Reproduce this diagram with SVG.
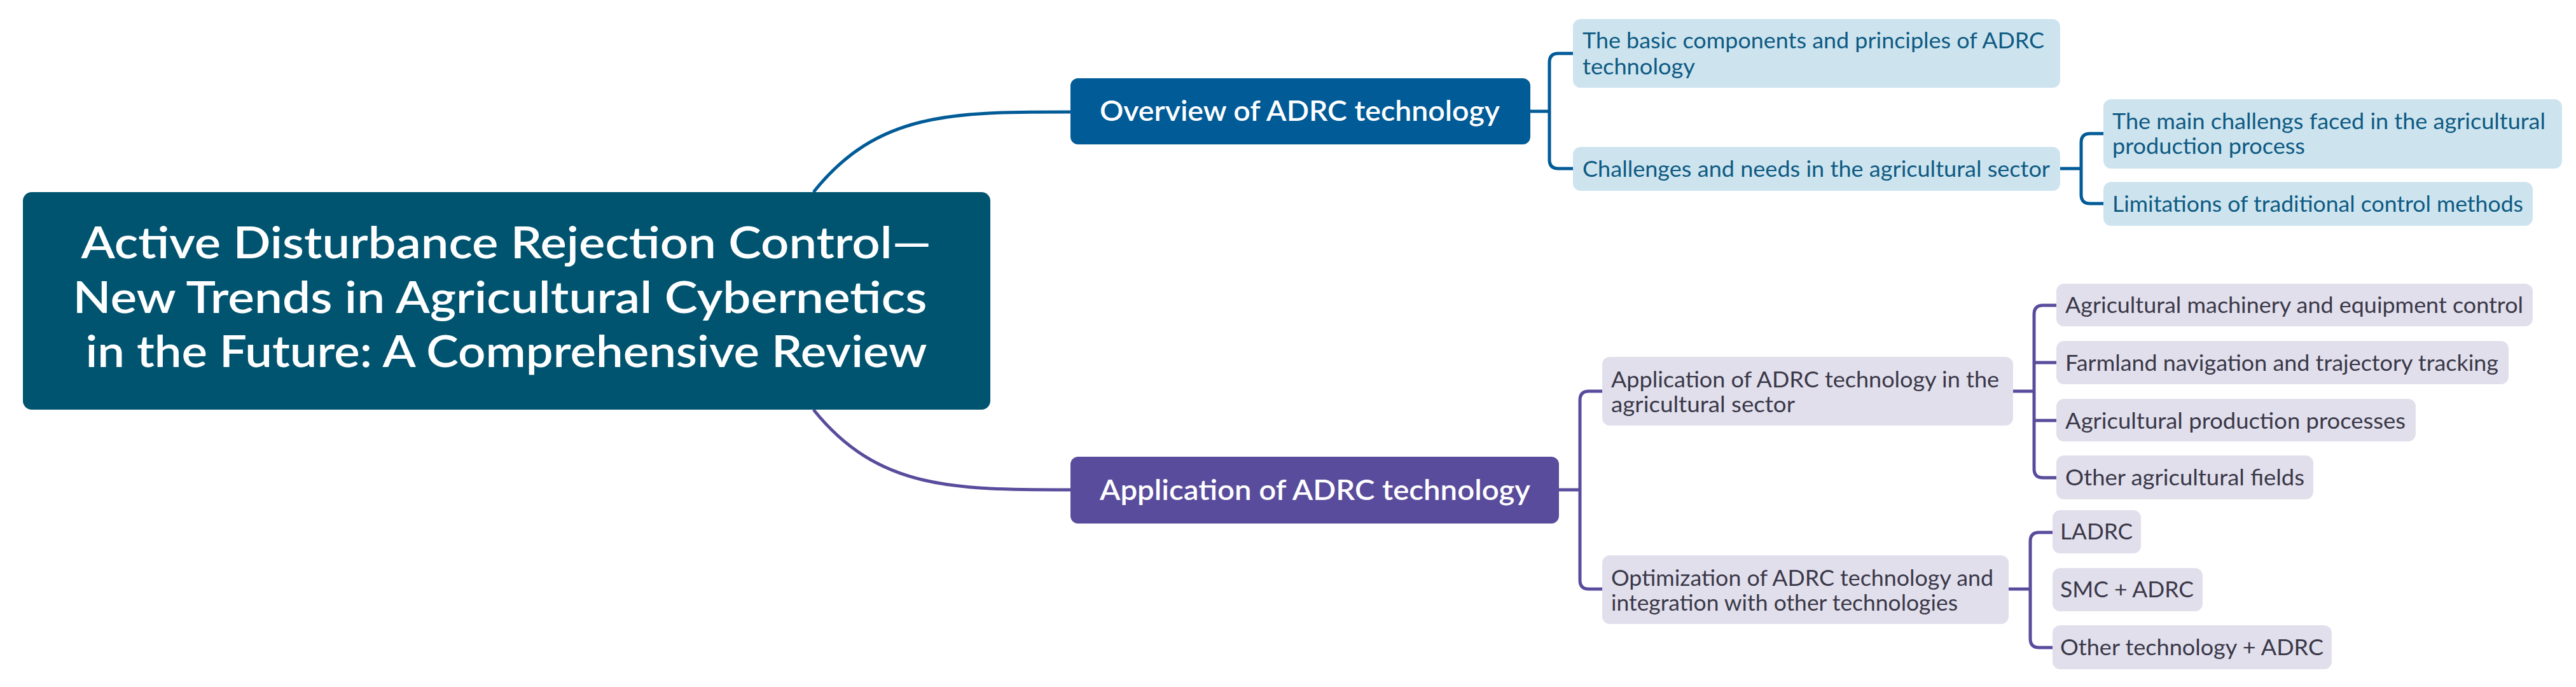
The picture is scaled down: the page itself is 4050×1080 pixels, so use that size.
<svg xmlns="http://www.w3.org/2000/svg" width="4050" height="1080" viewBox="0 0 4050 1080">
<style>
text{font-family:Lato,"Open Sans","Liberation Sans",sans-serif}
.root{fill:#005470}.rt{fill:#fff;font-size:70px;font-weight:600;text-anchor:middle}
.b1{fill:#005b97}.b2{fill:#5a4c9c}.mt{fill:#fff;font-size:44px;font-weight:600}
.lb{fill:#cde4ef}.lbt{fill:#0e5a82;font-size:34px}
.lp{fill:#e1dfec}.lpt{fill:#3a3848;font-size:34px}
.cb{fill:none;stroke:#005b97;stroke-width:5}.cp{fill:none;stroke:#5a4c9c;stroke-width:5}
</style>
<rect width="4050" height="1080" fill="#fff"/>
<g id="connectors">
<path class="cb" d="M1279,302 C1380,175 1500,176 1683,176"/>
<path class="cp" d="M1279,644 C1380,770 1500,770 1683,770"/>
<path class="cb" d="M2406,175 H2436 M2473,84 H2450 Q2436,84 2436,98 V251 Q2436,265 2450,265 H2473"/>
<path class="cb" d="M3239,265 H3272 M3307,210 H3286 Q3272,210 3272,224 V306 Q3272,320 3286,320 H3307"/>
<path class="cp" d="M2451,770 H2484 M2519,615 H2498 Q2484,615 2484,629 V912 Q2484,926 2498,926 H2519"/>
<path class="cp" d="M3165,615 H3198 M3233,480 H3212 Q3198,480 3198,494 V737 Q3198,751 3212,751 H3233 M3198,570 H3233 M3198,661 H3233"/>
<path class="cp" d="M3158,926 H3192 M3227,837 H3206 Q3192,837 3192,851 V1004 Q3192,1018 3206,1018 H3227"/>
</g>
<g id="root"><rect class="root" x="36" y="302" width="1521" height="342" rx="14"/>
<text class="rt" x="796" y="406" textLength="1337" lengthAdjust="spacingAndGlyphs">Active Disturbance Rejection Control—</text>
<text class="rt" x="786" y="492" textLength="1343" lengthAdjust="spacingAndGlyphs">New Trends in Agricultural Cybernetics</text>
<text class="rt" x="796" y="577" textLength="1323" lengthAdjust="spacingAndGlyphs">in the Future: A Comprehensive Review</text></g>
<g id="overview"><rect class="b1" x="1683" y="123" width="723" height="104" rx="12"/>
<text class="mt" x="1729" y="190" textLength="629" lengthAdjust="spacingAndGlyphs">Overview of ADRC technology</text></g>
<g id="application"><rect class="b2" x="1683" y="718" width="768" height="105" rx="12"/>
<text class="mt" x="1729" y="786" textLength="677" lengthAdjust="spacingAndGlyphs">Application of ADRC technology</text></g>
<g id="basic"><rect class="lb" x="2473" y="30" width="766" height="108" rx="12"/>
<text class="lbt" x="2488" y="76" textLength="726" lengthAdjust="spacingAndGlyphs">The basic components and principles of ADRC</text>
<text class="lbt" x="2488" y="117" textLength="177" lengthAdjust="spacingAndGlyphs">technology</text></g>
<g id="challenges"><rect class="lb" x="2473" y="231" width="766" height="69" rx="12"/>
<text class="lbt" x="2488" y="278" textLength="735" lengthAdjust="spacingAndGlyphs">Challenges and needs in the agricultural sector</text></g>
<g id="mainchallenges"><rect class="lb" x="3307" y="156" width="721" height="109" rx="12"/>
<text class="lbt" x="3321" y="203" textLength="681" lengthAdjust="spacingAndGlyphs">The main challengs faced in the agricultural</text>
<text class="lbt" x="3321" y="242" textLength="303" lengthAdjust="spacingAndGlyphs">production process</text></g>
<g id="limitations"><rect class="lb" x="3307" y="286" width="675" height="69" rx="12"/>
<text class="lbt" x="3321" y="333" textLength="646" lengthAdjust="spacingAndGlyphs">Limitations of traditional control methods</text></g>
<g id="appag"><rect class="lp" x="2519" y="561" width="646" height="108" rx="12"/>
<text class="lpt" x="2533" y="609" textLength="610" lengthAdjust="spacingAndGlyphs">Application of ADRC technology in the</text>
<text class="lpt" x="2533" y="648" textLength="289" lengthAdjust="spacingAndGlyphs">agricultural sector</text></g>
<g id="optimization"><rect class="lp" x="2519" y="873" width="639" height="108" rx="12"/>
<text class="lpt" x="2533" y="921" textLength="601" lengthAdjust="spacingAndGlyphs">Optimization of ADRC technology and</text>
<text class="lpt" x="2533" y="960" textLength="545" lengthAdjust="spacingAndGlyphs">integration with other technologies</text></g>
<g id="machinery"><rect class="lp" x="3233" y="446" width="749" height="67" rx="12"/>
<text class="lpt" x="3247" y="492" textLength="720" lengthAdjust="spacingAndGlyphs">Agricultural machinery and equipment control</text></g>
<g id="farmland"><rect class="lp" x="3233" y="536" width="711" height="68" rx="12"/>
<text class="lpt" x="3247" y="583" textLength="681" lengthAdjust="spacingAndGlyphs">Farmland navigation and trajectory tracking</text></g>
<g id="production"><rect class="lp" x="3233" y="627" width="565" height="67" rx="12"/>
<text class="lpt" x="3247" y="674" textLength="535" lengthAdjust="spacingAndGlyphs">Agricultural production processes</text></g>
<g id="otherfields"><rect class="lp" x="3233" y="716" width="404" height="69" rx="12"/>
<text class="lpt" x="3247" y="763" textLength="376" lengthAdjust="spacingAndGlyphs">Other agricultural fields</text></g>
<g id="ladrc"><rect class="lp" x="3227" y="802" width="139" height="68" rx="12"/>
<text class="lpt" x="3239" y="848" textLength="114" lengthAdjust="spacingAndGlyphs">LADRC</text></g>
<g id="smc"><rect class="lp" x="3227" y="893" width="236" height="68" rx="12"/>
<text class="lpt" x="3239" y="939" textLength="210" lengthAdjust="spacingAndGlyphs">SMC + ADRC</text></g>
<g id="othertech"><rect class="lp" x="3227" y="983" width="439" height="69" rx="12"/>
<text class="lpt" x="3239" y="1030" textLength="414" lengthAdjust="spacingAndGlyphs">Other technology + ADRC</text></g>
</svg>
